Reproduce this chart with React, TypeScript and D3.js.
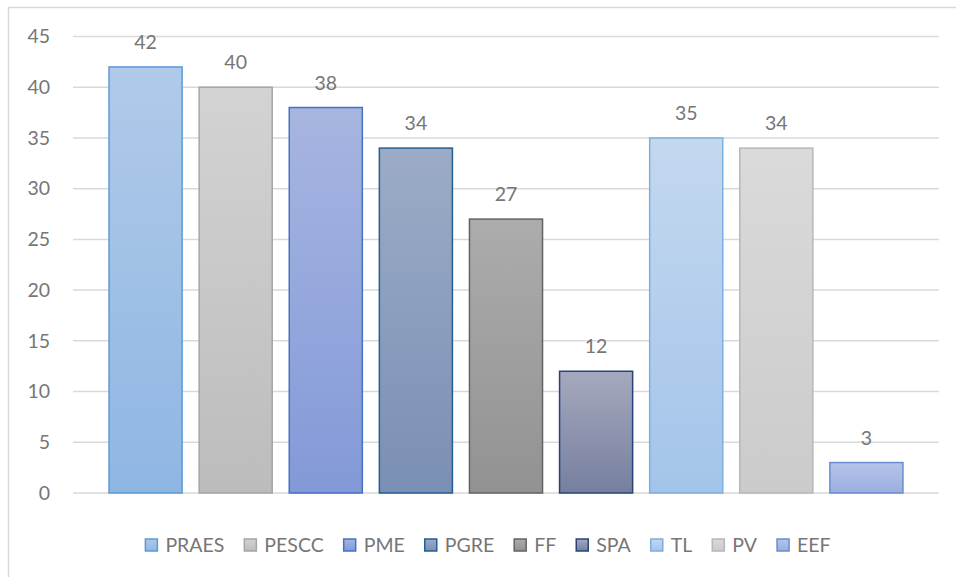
import React, { useRef, useEffect } from "react";
import * as d3 from "d3";

const categories = ["PRAES", "PESCC", "PME", "PGRE", "FF", "SPA", "TL", "PV", "EEF"];
const values = [42, 40, 38, 34, 27, 12, 35, 34, 3];
const yTicks = [0, 5, 10, 15, 20, 25, 30, 35, 40, 45];

// top colour, bottom colour, outline
const fillTop = ["#b0cae9", "#d3d3d3", "#a7b5e0", "#9cacc7", "#acacac", "#a6a9be", "#c4d8ef", "#dadada", "#b6c4e8"];
const fillBottom = ["#8fb6e3", "#bcbcbc", "#8399d8", "#7a8fb4", "#929292", "#767f9f", "#a3c4ea", "#cbcbcb", "#9aafe0"];
const strokes = ["#5b9bd5", "#a5a5a5", "#4472c4", "#255e91", "#636363", "#264478", "#7cafdd", "#b7b7b7", "#698ed0"];

const FONT = "Lato, 'Open Sans', sans-serif";
const TEXT = "#767676";

const App = () => {
  const ref = useRef<HTMLDivElement>(null);

  useEffect(() => {
    const width = 956;
    const height = 577;
    const left = 73;
    const right = 939;
    const top = 36.5;
    const bottom = 493;

    const svg = d3
      .select(ref.current)
      .append("svg")
      .attr("width", width)
      .attr("height", height)
      .style("display", "block");

    const defs = svg.append("defs");
    categories.forEach((c, i) => {
      const g = defs
        .append("linearGradient")
        .attr("id", `grad${i}`)
        .attr("x1", 0)
        .attr("y1", 0)
        .attr("x2", 0)
        .attr("y2", 1);
      g.append("stop").attr("offset", "0%").attr("stop-color", fillTop[i]);
      g.append("stop").attr("offset", "100%").attr("stop-color", fillBottom[i]);
    });

    svg.append("rect").attr("width", width).attr("height", height).attr("fill", "#fff");

    // chart border (left and top visible)
    svg
      .append("path")
      .attr("d", `M8.5,${height + 2} V7.5 H${width + 2}`)
      .attr("fill", "none")
      .attr("stroke", "#d9d9d9")
      .attr("stroke-width", 1.5);

    const x = d3
      .scaleBand()
      .domain(categories)
      .range([left, right])
      .paddingInner(0.189)
      .paddingOuter(0.4);

    const y = d3.scaleLinear().domain([0, 45]).range([bottom, top]);

    svg
      .append("g")
      .selectAll("line")
      .data(yTicks)
      .enter()
      .append("line")
      .attr("x1", left)
      .attr("x2", right)
      .attr("y1", (d) => y(d))
      .attr("y2", (d) => y(d))
      .attr("stroke", "#d9d9d9")
      .attr("stroke-width", 1.5);

    svg
      .append("g")
      .selectAll("text")
      .data(yTicks)
      .enter()
      .append("text")
      .attr("x", 50)
      .attr("y", (d) => y(d))
      .attr("dy", "0.35em")
      .attr("text-anchor", "end")
      .attr("font-size", "19.5px")
      .attr("font-family", FONT)
      .attr("fill", TEXT)
      .text((d) => d);

    const bars = svg
      .append("g")
      .selectAll("g")
      .data(values)
      .enter()
      .append("g");

    bars
      .append("rect")
      .attr("x", (d, i) => x(categories[i])!)
      .attr("y", (d) => y(d))
      .attr("width", x.bandwidth())
      .attr("height", (d) => y(0) - y(d))
      .attr("fill", (d, i) => `url(#grad${i})`)
      .attr("stroke", (d, i) => strokes[i])
      .attr("stroke-width", 1.5);

    bars
      .append("text")
      .attr("x", (d, i) => x(categories[i])! + x.bandwidth() / 2)
      .attr("y", (d) => y(d) - 18)
      .attr("text-anchor", "middle")
      .attr("font-size", "19.5px")
      .attr("font-family", FONT)
      .attr("fill", TEXT)
      .text((d) => d);

    // legend
    const legend = svg.append("g");
    const items = legend
      .selectAll("g")
      .data(categories)
      .enter()
      .append("g");

    items
      .append("rect")
      .attr("width", 12)
      .attr("height", 12)
      .attr("y", 539)
      .attr("fill", (d, i) => `url(#grad${i})`)
      .attr("stroke", (d, i) => strokes[i])
      .attr("stroke-width", 1.5);

    items
      .append("text")
      .attr("x", 20)
      .attr("y", 545)
      .attr("dy", "0.35em")
      .attr("font-size", "19.5px")
      .attr("font-family", FONT)
      .attr("fill", TEXT)
      .text((d) => d);

    const widths: number[] = [];
    items.select("text").each(function () {
      widths.push(20 + (this as SVGTextElement).getComputedTextLength());
    });
    const gap = 20;
    const total = d3.sum(widths) + gap * (widths.length - 1);
    let pos = 488 - total / 2;
    items.attr("transform", (d, i) => {
      const t = `translate(${pos},0)`;
      pos += widths[i] + gap;
      return t;
    });

    return () => {
      svg.remove();
    };
  }, []);

  return <div ref={ref} style={{ position: "absolute", left: 0, top: 0 }}></div>;
};

export default App;
